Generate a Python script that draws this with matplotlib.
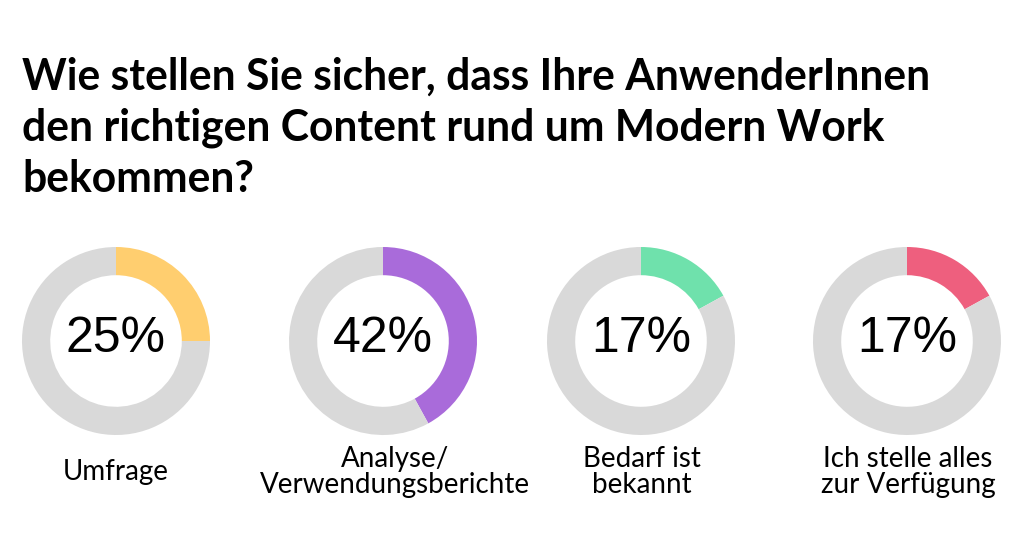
import matplotlib
matplotlib.use("Agg")
import matplotlib.pyplot as plt

# Data
title = "Wie stellen Sie sicher, dass Ihre AnwenderInnen\nden richtigen Content rund um Modern Work\nbekommen?"
labels = ["Umfrage", "Analyse/\nVerwendungsberichte", "Bedarf ist\nbekannt", "Ich stelle alles\nzur Verfügung"]
values = [25, 42, 17, 17]
colors = ["#FFCE6F", "#A96BDA", "#6FE1AC", "#EE5F7E"]
grey = "#D9D9D9"

W, H = 1024, 553
fig = plt.figure(figsize=(W / 100, H / 100), dpi=100)
fig.patch.set_facecolor("white")

fig.text(22 / W, 1 - 57 / H, title, fontsize=30.7, fontweight="bold", family="Lato",
         color="black", ha="left", va="top", linespacing=1.32)

# donut positions in pixels
centers_x = [116, 383, 641, 907]
label_x = [116, 395, 642, 908]
cy = 341
r = 94

for i in range(4):
    ax = fig.add_axes([(centers_x[i] - r) / W, (H - cy - r) / H, 2 * r / W, 2 * r / H])
    ax.pie([values[i], 100 - values[i]], colors=[colors[i], grey], startangle=90,
           counterclock=False, radius=1, wedgeprops=dict(width=0.3, linewidth=0))
    ax.set_xlim(-1, 1)
    ax.set_ylim(-1, 1)
    ax.axis("off")
    ax.text(0, 0.02, f"{values[i]}%", ha="center", va="center", fontsize=36,
            family="Liberation Sans", color="black")
    fig.text(label_x[i] / W, 1 - 472 / H, labels[i], ha="center", va="center",
             fontsize=20, family="Lato", color="black", linespacing=0.97)

fig.savefig("out.png", dpi=100)
